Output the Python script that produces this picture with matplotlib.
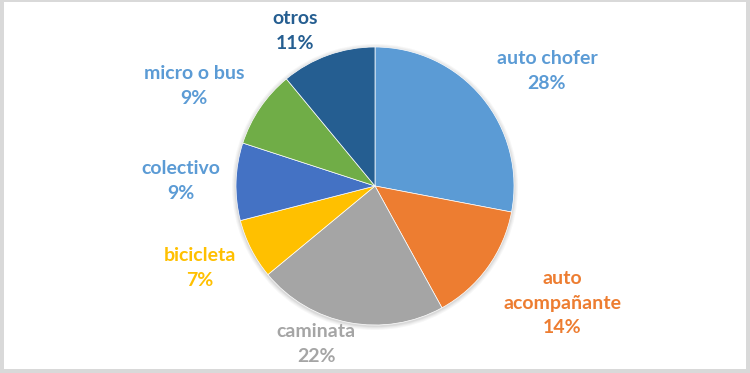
import matplotlib
matplotlib.use("Agg")
import matplotlib.pyplot as plt
from matplotlib.patches import Rectangle, Circle

categories = ["auto chofer", "auto\nacompañante", "caminata", "bicicleta",
              "colectivo", "micro o bus", "otros"]
values = [28, 14, 22, 7, 9, 9, 11]
slice_colors = ["#5B9BD5", "#ED7D31", "#A5A5A5", "#FFC000",
                "#4472C4", "#70AD47", "#255E91"]
label_colors = ["#5B9BD5", "#ED7D31", "#A5A5A5", "#FFC000",
                "#5B9BD5", "#5B9BD5", "#255E91"]
# label anchor positions in figure pixels (layout)
label_xy = [(547, 71), (562, 303), (316, 344), (200, 268),
            (181, 181), (194, 86), (295, 31)]

W, H = 750, 373
fig = plt.figure(figsize=(W / 100, H / 100), dpi=100)
ax = fig.add_axes([0, 0, 1, 1])

cx, cy, r = 375, 186, 139
# soft shadow
for i, a in enumerate([0.03, 0.03, 0.04, 0.05]):
    ax.add_patch(Circle((cx, cy + 1), r + 4 - i, color="black", alpha=a,
                        linewidth=0, zorder=1))

# y axis is inverted (pixel coords), so counterclock=True draws clockwise on screen
ax.pie(values, colors=slice_colors, startangle=-90, counterclock=True,
       center=(cx, cy), radius=r, frame=True,
       wedgeprops=dict(linewidth=0.5, edgecolor="white", zorder=2))
ax.set_xlim(0, W)
ax.set_ylim(H, 0)
ax.set_aspect("equal")
ax.axis("off")

# border frame (gray strips)
bc = "#D9D9D9"
for (x0, y0, w, h) in [(0, 0, W, 2), (0, H - 4, W, 4), (0, 0, 4, H), (W - 4, 0, 4, H)]:
    ax.add_patch(Rectangle((x0, y0), w, h, facecolor=bc, edgecolor="none",
                           zorder=0))

for cat, v, col, (x, y) in zip(categories, values, label_colors, label_xy):
    ax.text(x, y, f"{cat}\n{v}%", ha="center", va="center", color=col,
            fontsize=14, fontweight="bold", family=["Lato", "DejaVu Sans"],
            linespacing=1.55, zorder=5)

fig.savefig("out.png", dpi=100)
